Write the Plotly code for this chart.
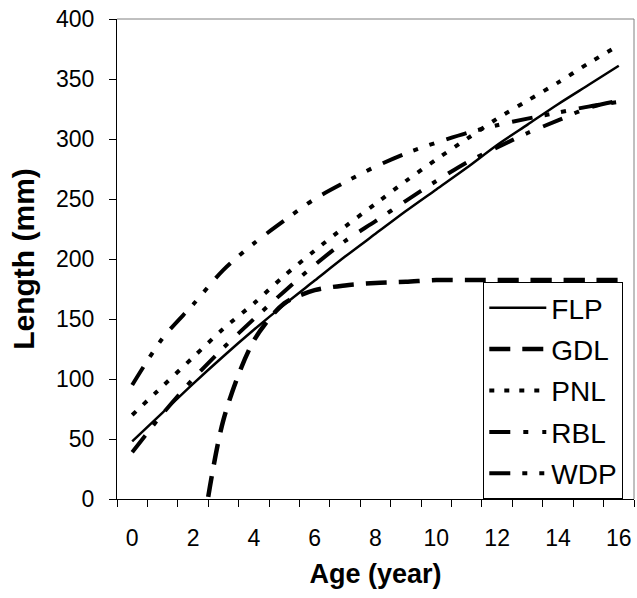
import plotly.graph_objects as go

ages = list(range(17))
FLP = [48, 72, 96, 119, 141, 162, 182, 202, 221, 240, 258, 276, 295, 312, 329, 345, 361]
GDL = [None, None, -80, 66, 132, 163, 174, 178, 180, 181, 182.5, 182.5, 182.5, 182.5, 182.5, 182.5, 182.5]
PNL = [70, 94, 118, 142, 163, 186, 207, 227, 246, 265, 283, 300, 317, 332, 347, 363, 378]
RBL = [39, 71, 100, 126, 150, 173, 195, 215, 231.5, 248.5, 265, 280.5, 293, 305, 315.5, 326, 332]
WDP = [95, 134, 162, 191, 213, 232, 250, 264, 277, 288, 297, 305, 311.5, 317, 322, 327, 331]

x_labels = [0, 2, 4, 6, 8, 10, 12, 14, 16]
y_ticks = [0, 50, 100, 150, 200, 250, 300, 350, 400]

FONT = "Liberation Sans, Arial, sans-serif"

series = [
    ("FLP", FLP, dict(color="black", width=2.5, dash="solid")),
    ("GDL", GDL, dict(color="black", width=4.5, dash="21px,12px")),
    ("PNL", PNL, dict(color="black", width=4, dash="5px,10px")),
    ("RBL", RBL, dict(color="black", width=4, dash="21px,13px,5px,14px")),
    ("WDP", WDP, dict(color="black", width=4, dash="21px,12px,5px,12px,5px,13px")),
]

fig = go.Figure()
for i, (name, vals, line) in enumerate(series):
    fig.add_trace(go.Scatter(
        x=ages, y=vals, name=name, mode="lines",
        line=dict(shape="spline", smoothing=0.8, **line),
        connectgaps=False, legendgroup=name,
    ))

fig.update_layout(
    width=637, height=598,
    margin=dict(l=117, r=3, t=19, b=99),
    paper_bgcolor="white", plot_bgcolor="white",
    font=dict(family=FONT, color="black", size=23),
    showlegend=True,
    legend=dict(
        x=0.7085, y=0, xanchor="left", yanchor="bottom",
        bgcolor="white", bordercolor="black", borderwidth=1,
        font=dict(size=28, family=FONT, color="black"),
        itemwidth=57, traceorder="grouped", tracegroupgap=2,
    ),
    xaxis=dict(
        range=[-0.5, 16.5], tickmode="array", tickvals=x_labels,
        ticktext=[str(v) for v in x_labels], ticks="",
        showline=True, linecolor="black", linewidth=1,
        showgrid=False, zeroline=False,
        ticklabelstandoff=18,
        minor=dict(tickmode="linear", tick0=-0.5, dtick=1, ticks="outside",
                   ticklen=7, tickcolor="black", tickwidth=1, showgrid=False),
        title=dict(text="<b>Age (year)</b>", font=dict(size=27, family=FONT), standoff=14),
    ),
    yaxis=dict(
        range=[0, 400], tickmode="array", tickvals=y_ticks,
        ticks="outside", ticklen=7, tickcolor="black", tickwidth=1,
        showline=True, linecolor="black", linewidth=1,
        showgrid=False, zeroline=False,
        ticklabelstandoff=10,
        title=dict(text="<b>Length (mm)</b>", font=dict(size=30, family=FONT), standoff=12),
    ),
)

# plot-area frame on top and right (grey)
fig.add_shape(type="line", xref="paper", yref="paper", x0=0, x1=1, y0=1, y1=1,
              line=dict(color="#808080", width=1))
fig.add_shape(type="line", xref="paper", yref="paper", x0=1, x1=1, y0=0, y1=1,
              line=dict(color="#808080", width=1))

fig.write_html("out.html")
